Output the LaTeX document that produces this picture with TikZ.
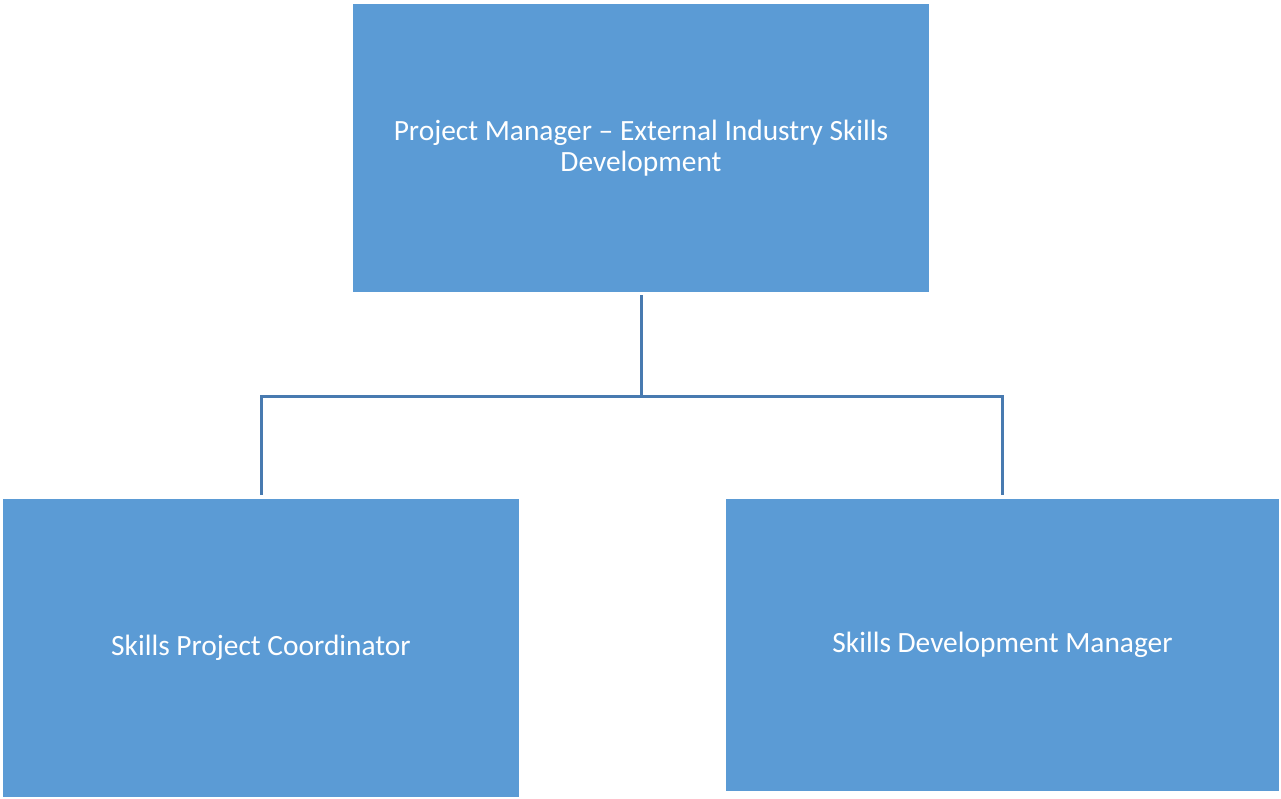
\documentclass[tikz,border=0pt]{standalone}
\usepackage{fontspec}
\setmainfont{Carlito}
\definecolor{boxblue}{RGB}{91,155,213}
\definecolor{lineblue}{RGB}{72,122,176}
\tikzset{
	rolebox/.style={draw=none, fill=boxblue, text=white, align=center, inner sep=0pt,
		font=\fontsize{29.4}{31.5}\selectfont},
	orgline/.style={draw=lineblue, line width=3pt}
}
\begin{document}
\begin{tikzpicture}[x=1pt, y=1pt]
				\useasboundingbox (0,0) rectangle (1281,-798);

				\node[rolebox, minimum width=576, minimum height=288] (pm) at (641,-148) {Project Manager -- External Industry Skills\\Development};
				\node[rolebox, minimum width=516, minimum height=298] (spc) at (261,-648) {Skills Project Coordinator};
				\node[rolebox, minimum width=553, minimum height=292] (sdm) at (1002.5,-645) {Skills Development Manager};

				\coordinate (split) at (641,-396);
				\draw[orgline] ([yshift=-3]pm.south) -- (split);
				\draw[orgline] (split) -| ([yshift=4]spc.north);
				\draw[orgline] (split) -| ([yshift=4]sdm.north);
			\end{tikzpicture}
\end{document}
